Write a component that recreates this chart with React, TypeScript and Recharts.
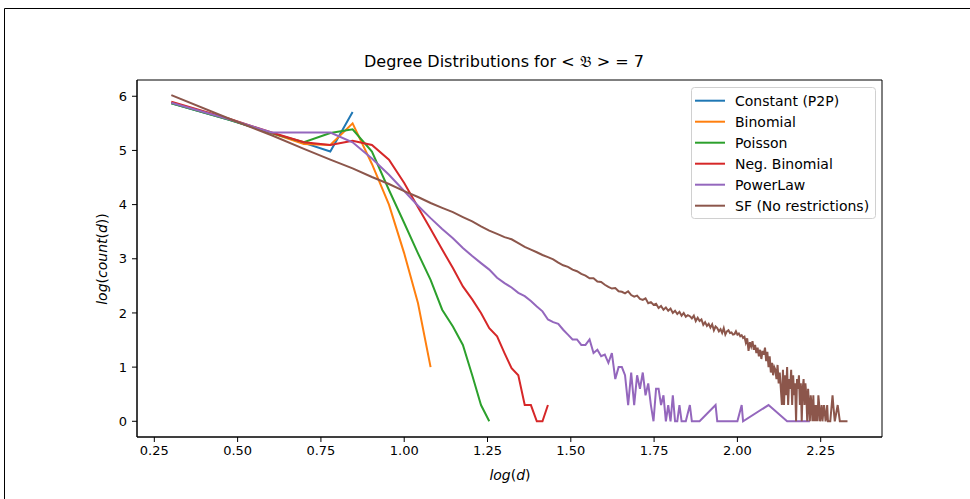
import React from "react";
import { LineChart, Line, XAxis, YAxis, ReferenceArea } from "recharts";

// degree d -> log10(count), one list of [d, value] per distribution
const constantPts: [number, number][] = [
  [2, 5.87], [3, 5.56], [4, 5.32], [5, 5.14], [6, 4.98], [7, 5.71],
];

const binomialPts: [number, number][] = [
  [2, 5.88], [3, 5.57], [4, 5.32], [5, 5.12], [6, 5.1], [7, 5.5],
  [8, 4.75], [9, 4.0], [10, 3.1], [11, 2.18], [12, 1.0],
];

const poissonPts: [number, number][] = [
  [2, 5.87], [3, 5.56], [4, 5.32], [5, 5.15], [6, 5.32], [7, 5.39],
  [8, 4.98], [9, 4.27], [10, 3.66], [11, 3.1], [12, 2.61], [13, 2.06],
  [14, 1.75], [15, 1.41], [16, 0.85], [17, 0.3], [18, 0],
];

const negBinomialPts: [number, number][] = [
  [2, 5.9], [3, 5.58], [4, 5.33], [5, 5.15], [6, 5.1], [7, 5.18],
  [8, 5.1], [9, 4.83], [10, 4.4], [11, 3.95], [12, 3.55], [13, 3.17],
  [14, 2.83], [15, 2.49], [16, 2.25], [17, 2.0], [18, 1.72], [19, 1.57],
  [20, 1.26], [21, 0.98], [22, 0.85], [23, 0.3], [24, 0.3], [25, 0],
  [26, 0], [27, 0.3],
];

const powerLawPts: [number, number][] = [
  [2, 5.88], [3, 5.57], [4, 5.33], [5, 5.33], [6, 5.33], [7, 5.15],
  [8, 4.85], [9, 4.55], [10, 4.25], [11, 3.98], [12, 3.75], [13, 3.55],
  [14, 3.38], [15, 3.2], [16, 3.05], [17, 2.92], [18, 2.8], [19, 2.65],
  [20, 2.55], [21, 2.47], [22, 2.37], [23, 2.31], [24, 2.22], [25, 2.12],
  [26, 2.03], [27, 1.88], [28, 1.83], [29, 1.8], [30, 1.69], [31, 1.6],
  [32, 1.51], [33, 1.51], [34, 1.41], [35, 1.41], [36, 1.51], [37, 1.26],
  [38, 1.32], [39, 1.2], [40, 1.23], [41, 1.08], [42, 1.26], [43, 0.78],
  [44, 1.0], [45, 1.0], [46, 0.85], [47, 0.3], [48, 0.9], [49, 0.3],
  [50, 0.85], [51, 0.6], [52, 0.9], [53, 0.48], [54, 0.7], [55, 0.3],
  [56, 0], [57, 0.6], [58, 0.6], [59, 0.3], [60, 0.48], [61, 0],
  [62, 0.3], [63, 0], [64, 0.48], [65, 0], [66, 0], [67, 0.3],
  [68, 0], [70, 0], [72, 0.3], [73, 0], [74, 0], [77, 0],
  [86, 0.3], [87, 0], [100, 0], [103, 0.3], [104, 0], [124, 0.3],
  [141, 0], [165, 0],
];

const sfPts: [number, number][] = [
  [2, 6.02], [3, 5.58], [4, 5.28], [5, 5.03], [6, 4.83], [7, 4.67],
  [8, 4.51], [9, 4.38], [10, 4.25], [11, 4.14], [12, 4.03], [13, 3.94],
  [14, 3.86], [15, 3.77], [16, 3.69], [17, 3.6], [18, 3.52], [19, 3.46],
  [20, 3.4], [21, 3.36], [22, 3.29], [23, 3.22], [24, 3.17], [25, 3.12],
  [26, 3.07], [27, 3.03], [28, 2.99], [29, 2.93], [30, 2.88], [31, 2.85],
  [32, 2.8], [33, 2.77], [34, 2.72], [35, 2.69], [36, 2.64], [37, 2.64],
  [38, 2.58], [39, 2.57], [40, 2.52], [41, 2.48], [42, 2.45], [43, 2.46],
  [44, 2.4], [45, 2.39], [46, 2.36], [47, 2.4], [48, 2.33], [49, 2.3],
  [50, 2.32], [51, 2.26], [52, 2.24], [53, 2.27], [54, 2.18], [55, 2.2],
  [56, 2.15], [57, 2.17], [58, 2.09], [59, 2.13], [60, 2.06], [61, 2.1],
  [62, 2.04], [63, 2.08], [64, 2.0], [65, 2.04], [66, 1.98], [67, 2.02],
  [68, 1.95], [69, 2.0], [70, 1.93], [71, 1.96], [72, 1.94], [73, 1.9],
  [74, 1.95], [75, 1.85], [76, 1.91], [77, 1.85], [78, 1.88], [79, 1.78],
  [80, 1.83], [81, 1.76], [82, 1.8], [83, 1.73], [84, 1.79], [85, 1.68],
  [86, 1.75], [87, 1.72], [88, 1.66], [89, 1.7], [90, 1.63], [91, 1.72],
  [92, 1.6], [93, 1.66], [94, 1.68], [95, 1.63], [96, 1.64], [97, 1.6],
  [98, 1.61], [99, 1.66], [100, 1.6], [101, 1.62], [102, 1.57], [103, 1.59],
  [104, 1.54], [105, 1.56], [106, 1.45], [107, 1.53], [108, 1.3], [109, 1.46],
  [110, 1.38], [111, 1.48], [112, 1.32], [113, 1.41], [114, 1.26], [115, 1.36],
  [116, 1.2], [117, 1.32], [118, 1.15], [119, 1.3], [120, 1.23], [121, 1.36],
  [122, 1.11], [123, 1.28], [124, 1.0], [125, 1.2], [126, 0.9], [127, 1.08],
  [128, 0.85], [129, 1.0], [130, 0.95], [131, 0.78], [132, 1.04], [133, 0.7],
  [134, 0.9], [135, 0.6], [136, 0.3], [137, 0.95], [138, 0.3], [139, 0.85],
  [140, 0.48], [141, 1.0], [142, 0.3], [143, 0.78], [144, 0.6], [145, 0.95],
  [146, 0.3], [147, 0.85], [148, 0.48], [149, 0.7], [150, 0], [151, 0.78],
  [152, 0.6], [153, 0.85], [154, 0.3], [155, 0.7], [156, 0], [157, 0.6],
  [158, 0.78], [159, 0.3], [160, 0.7], [161, 0.48], [162, 0], [163, 0.6],
  [164, 0.3], [165, 0], [166, 0.48], [167, 0.3], [168, 0], [169, 0.48],
  [170, 0], [171, 0.3], [172, 0], [173, 0.3], [174, 0], [175, 0.48],
  [176, 0.3], [177, 0], [179, 0.3], [180, 0], [182, 0.3], [184, 0],
  [186, 0.3], [187, 0], [190, 0], [193, 0.48], [194, 0.3], [196, 0],
  [200, 0.3], [203, 0], [205, 0], [209, 0], [214, 0],
];

const xTicks = [0.25, 0.5, 0.75, 1.0, 1.25, 1.5, 1.75, 2.0, 2.25];
const yTicks = [0, 1, 2, 3, 4, 5, 6];

const series = [
  { name: "Constant (P2P)", color: "#1f77b4", pts: constantPts },
  { name: "Binomial", color: "#ff7f0e", pts: binomialPts },
  { name: "Poisson", color: "#2ca02c", pts: poissonPts },
  { name: "Neg. Binomial", color: "#d62728", pts: negBinomialPts },
  { name: "PowerLaw", color: "#9467bd", pts: powerLawPts },
  { name: "SF (No restrictions)", color: "#8c564b", pts: sfPts },
];

const FONT = "DejaVu Sans";
const X_DOMAIN: [number, number] = [0.198, 2.434];
const Y_DOMAIN: [number, number] = [-0.29, 6.3];
const YW = 40;
const XH = 30;

const rows = (pts: [number, number][]) => pts.map(([d, v]) => ({ x: Math.log10(d), y: v }));

function Overlay() {
  return (
    <svg
      width={970}
      height={499}
      style={{ position: "absolute", left: 0, top: 0, pointerEvents: "none" }}
      fontFamily={FONT}
    >
      {/* outer frame of the screenshot */}
      <line x1={4.5} y1={8.5} x2={970} y2={8.5} stroke="#000" />
      <line x1={4.5} y1={8.5} x2={4.5} y2={499} stroke="#000" />

      <text x={504} y={67} textAnchor="middle" fontSize={16} fill="#000">
        Degree Distributions for {"< \u{1D505} > = 7"}
      </text>

      <text x={510} y={480} textAnchor="middle" fontSize={14} fill="#000">
        <tspan fontStyle="italic">log</tspan>(<tspan fontStyle="italic">d</tspan>)
      </text>

      <text
        x={0}
        y={0}
        transform="translate(107 259) rotate(-90)"
        textAnchor="middle"
        fontSize={14}
        fill="#000"
      >
        <tspan fontStyle="italic">log</tspan>(<tspan fontStyle="italic">count</tspan>(
        <tspan fontStyle="italic">d</tspan>))
      </text>

      <rect x={691.5} y={87.5} width={184} height={131} rx={3} fill="#fff" fillOpacity={0.8} stroke="#d0d0d0" />
      {series.map((s, i) => (
        <g key={s.name}>
          <line x1={695} x2={725} y1={100.7 + i * 21} y2={100.7 + i * 21} stroke={s.color} strokeWidth={2} />
          <text x={735} y={100.7 + i * 21} dominantBaseline="central" fontSize={14} fill="#000">
            {s.name}
          </text>
        </g>
      ))}
    </svg>
  );
}

export default function App() {
  return (
    <div style={{ position: "absolute", left: 0, top: 0, width: 970, height: 499, background: "#fff" }}>
      <LineChart
        width={970}
        height={499}
        margin={{ top: 80, right: 88, bottom: 62 - XH, left: 137 - YW }}
      >
        <XAxis
          type="number"
          dataKey="x"
          domain={X_DOMAIN}
          allowDataOverflow
          ticks={xTicks}
          height={XH}
          stroke="#000"
          tickSize={5}
          tickMargin={4}
          tick={{ fontSize: 13, fill: "#000", fontFamily: FONT }}
          tickFormatter={(v) => Number(v).toFixed(2)}
        />
        <YAxis
          type="number"
          domain={Y_DOMAIN}
          allowDataOverflow
          ticks={yTicks}
          width={YW}
          stroke="#000"
          tickSize={5}
          tickMargin={5}
          tick={{ fontSize: 13, fill: "#000", fontFamily: FONT }}
        />
        {series.map((s) => (
          <Line
            key={s.name}
            data={rows(s.pts)}
            dataKey="y"
            name={s.name}
            type="linear"
            stroke={s.color}
            strokeWidth={2}
            dot={false}
            activeDot={false}
            isAnimationActive={false}
          />
        ))}
        <ReferenceArea
          x1={X_DOMAIN[0]}
          x2={X_DOMAIN[1]}
          y1={Y_DOMAIN[0]}
          y2={Y_DOMAIN[1]}
          fill="none"
          stroke="#000"
          strokeWidth={1}
        />
      </LineChart>
      <Overlay />
    </div>
  );
}
